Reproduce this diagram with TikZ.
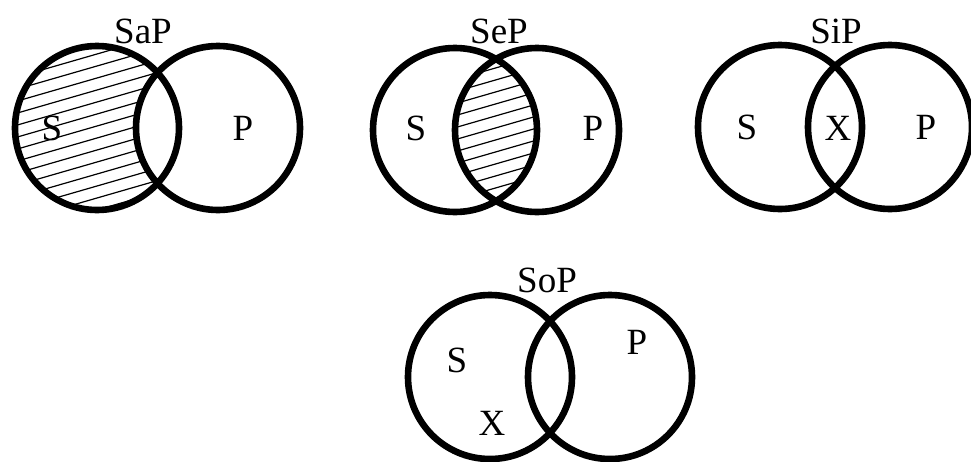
\documentclass[tikz,border=0pt]{standalone}
\usepackage{fontspec}
\setmainfont{Liberation Serif}
\usetikzlibrary{positioning}

\begin{document}
\begin{tikzpicture}[x=1pt, y=-1pt,
    venn/.style={line width=6.6pt},
    hatch/.style={line width=1.2pt},
    lbl/.style={inner sep=0pt, font=\fontsize{37}{40}\selectfont}
  ]
  \useasboundingbox (0,0) rectangle (971,461);

  % SaP
  \coordinate (aS) at (97,128);
  \coordinate (aP) at (218,128);
  \begin{scope}
    \clip (aS) circle (82pt);
    \foreach \k in {-10,...,14}
      \draw[hatch] ([shift={(-90,\k*12)}]aS) -- ++(180,-52);
  \end{scope}
  \fill[white] (aP) circle (82pt);
  \draw[venn] (aS) circle (82pt) (aP) circle (82pt);
  \node[lbl] (aTitle) at (143,31) {SaP};
  \node[lbl] (aSlbl) at (52,128) {S};
  \node[lbl] (aPlbl) at (243,128) {P};

  % SeP
  \coordinate (eS) at (455,130);
  \coordinate (eP) at (537,130);
  \begin{scope}
    \clip (eS) circle (82pt);
    \clip (eP) circle (82pt);
    \foreach \k in {-10,...,14}
      \draw[hatch] ([shift={(-90,\k*12)}]eP) -- ++(180,-52);
  \end{scope}
  \draw[venn] (eS) circle (82pt) (eP) circle (82pt);
  \node[lbl] (eTitle) at (499,31) {SeP};
  \node[lbl] (eSlbl) at (416,128) {S};
  \node[lbl] (ePlbl) at (593,128) {P};

  % SiP
  \coordinate (iS) at (780,127);
  \coordinate (iP) at (890,127);
  \draw[venn] (iS) circle (82pt) (iP) circle (82pt);
  \node[lbl] (iTitle) at (836,31) {SiP};
  \node[lbl] (iSlbl) at (747,127) {S};
  \node[lbl] (iX) at (838,128) {X};
  \node[lbl] (iPlbl) at (926,127) {P};

  % SoP
  \coordinate (oS) at (490,377);
  \coordinate (oP) at (610,377);
  \draw[venn] (oS) circle (82pt) (oP) circle (82pt);
  \node[lbl] (oTitle) at (547,280) {SoP};
  \node[lbl] (oSlbl) at (457,360) {S};
  \node[lbl] (oPlbl) at (637,342) {P};
  \node[lbl] (oX) at (492,423) {X};
\end{tikzpicture}
\end{document}
